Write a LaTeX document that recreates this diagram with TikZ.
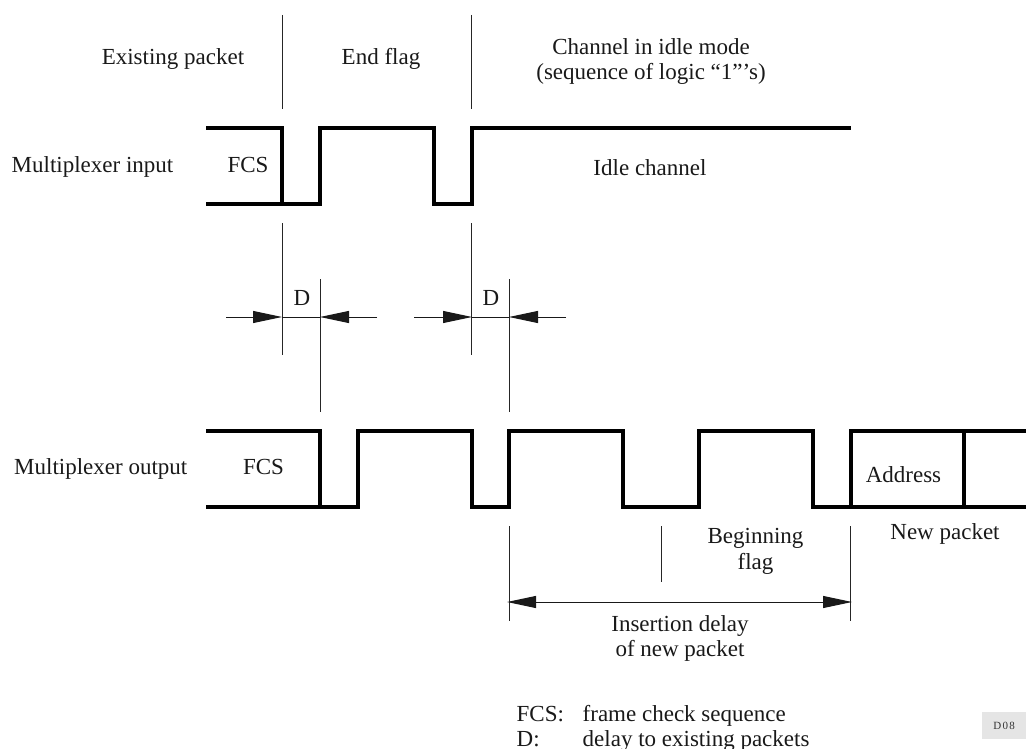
\documentclass[tikz,border=0pt]{standalone}
\usepackage{fontspec}
\setmainfont{Liberation Serif}
\usetikzlibrary{arrows.meta}
\tikzset{
  sig/.style={line width=3.6pt,line join=miter,line cap=butt},
  thin line/.style={line width=1pt,black!85},
  dim/.style={line width=1pt,black!90},
  tipr/.style={-{Triangle[length=29pt,width=12pt]}},
  lab/.style={font=\fontsize{23}{25}\selectfont,inner sep=0pt,text=black!90},
}
\begin{document}
\begin{tikzpicture}[x=1pt,y=-1pt]
\useasboundingbox (0,0) rectangle (1026,749);
% upper signal
\draw[sig] (206,128)--(282,128)--(282,204)--(206,204);
\draw[sig] (282,204)--(320,204)--(320,128)--(434,128)--(434,204)--(472,204)--(472,128)--(851,128);
% lower signal
\draw[sig] (206,431)--(320,431)--(320,507)--(206,507);
\draw[sig] (320,507)--(358,507)--(358,431)--(472,431)--(472,507)--(509,507)--(509,431)--(623,431)--(623,507)--(699,507)--(699,431)--(813,431)--(813,507)--(851,507)--(851,431)--(1026,431);
\draw[sig] (851,507)--(1026,507);
\draw[sig] (964,431)--(964,507);
% thin verticals
\foreach \x in {282,471.5}{
  \draw[thin line] (\x,15)--(\x,109);
  \draw[thin line] (\x,223)--(\x,355);
}
\foreach \x in {320,509.5}{
  \draw[thin line] (\x,279)--(\x,412);
}
\draw[thin line] (509.5,526)--(509.5,621);
\draw[thin line] (850.5,526)--(850.5,621);
\draw[thin line] (661,526)--(661,582);
% dimension arrows
\draw[dim,tipr] (226,317)--(282,317);
\draw[dim] (282,317)--(320,317);
\draw[dim,tipr] (377,317)--(320,317);
\draw[dim,tipr] (414,317)--(472,317);
\draw[dim] (472,317)--(509,317);
\draw[dim,tipr] (566,317)--(509,317);
\draw[dim,{Triangle[length=29pt,width=12pt]}-{Triangle[length=29pt,width=12pt]}] (507,602)--(852,602);
% labels
\node[lab,anchor=base] (existing) at (173,65) {Existing packet};
\node[lab,anchor=base] (endflag) at (381,65) {End flag};
\node[lab,anchor=base] (idlemode) at (651,55) {Channel in idle mode};
\node[lab,anchor=base] (idlemodeb) at (651,80) {(sequence of logic “1”'s)};
\node[lab,anchor=base west] (muxin) at (11.5,172) {Multiplexer input};
\node[lab,anchor=base] (fcsa) at (248,172) {FCS};
\node[lab,anchor=base] (idle) at (650,176) {Idle channel};
\node[lab,anchor=base] (da) at (302,305) {D};
\node[lab,anchor=base] (db) at (491,305) {D};
\node[lab,anchor=base west] (muxout) at (14,474.5) {Multiplexer output};
\node[lab,anchor=base] (fcsb) at (263.5,474.5) {FCS};
\node[lab,anchor=base] (addr) at (903.5,482) {Address};
\node[lab,anchor=base] (newp) at (945,539) {New packet};
\node[lab,anchor=base] (beg) at (755.5,543.5) {Beginning};
\node[lab,anchor=base] (begb) at (755.5,569) {flag};
\node[lab,anchor=base] (ins) at (680,631) {Insertion delay};
\node[lab,anchor=base] (insb) at (680,656) {of new packet};
\node[lab,anchor=base west] (k1) at (516.5,721) {FCS:};
\node[lab,anchor=base west] (k2) at (582.5,721) {frame check sequence};
\node[lab,anchor=base west] (k3) at (516.5,746.5) {D:};
\node[lab,anchor=base west] (k4) at (582.5,746.5) {delay to existing packets};
\node[fill=black!10,minimum width=44pt,minimum height=27pt,inner sep=0pt,anchor=north west,
  font=\fontsize{11}{13}\selectfont,text=black!80] (tag) at (982,712) {\addfontfeature{LetterSpace=12}D08};
\end{tikzpicture}
\end{document}
